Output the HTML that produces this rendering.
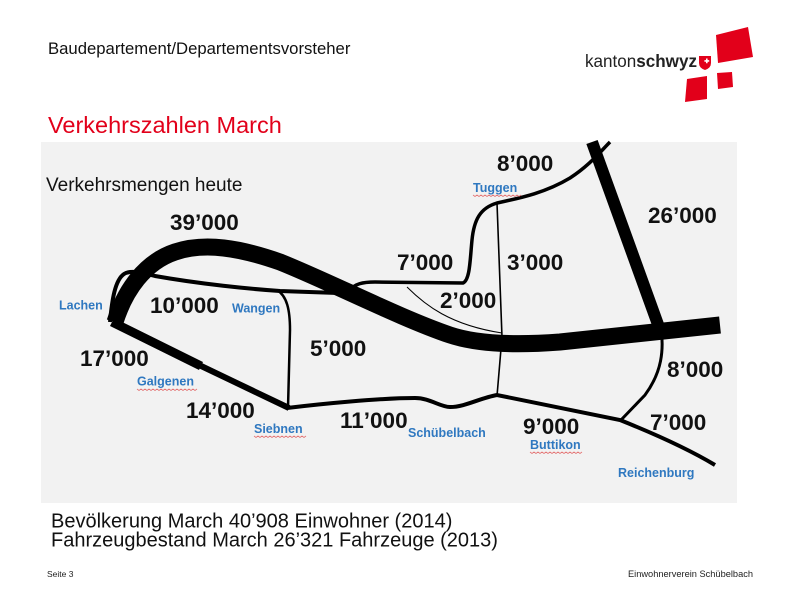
<!DOCTYPE html>
<html>
<head>
<meta charset="utf-8">
<style>
  html,body{margin:0;padding:0;background:#fff;}
  svg{display:block;}
  text{font-family:"Liberation Sans",Arial,sans-serif;}
  .num{font-weight:bold;font-size:22.5px;fill:#111;}
  .lbl{font-weight:bold;font-size:12.5px;fill:#2f78c0;}
  .road{fill:none;stroke:#000;}
</style>
</head>
<body>
<svg width="800" height="600" viewBox="0 0 800 600" xmlns="http://www.w3.org/2000/svg">
  <rect x="0" y="0" width="800" height="600" fill="#fff"/>

  <!-- Header -->
  <text x="48" y="54" font-size="16.7" fill="#111">Baudepartement/Departementsvorsteher</text>
  <text x="48" y="133" font-size="23.5" fill="#e2001a">Verkehrszahlen March</text>

  <!-- Logo -->
  <text x="585" y="67" font-size="17.5" fill="#222" textLength="112" lengthAdjust="spacingAndGlyphs">kanton<tspan font-weight="bold">schwyz</tspan></text>
  <path d="M699 56 L711 56 L711 63 Q711 68 705 70 Q699 68 699 63 Z" fill="#e2001a"/>
  <path d="M706 58.5 h1.6 v1.6 h1.6 v1.6 h-1.6 v1.6 h-1.6 v-1.6 h-1.6 v-1.6 h1.6 Z" fill="#fff"/>
  <polygon points="716,35 748,27 753,57 718,63" fill="#e2001a"/>
  <polygon points="687,79 707,76 707,99 685,102" fill="#e2001a"/>
  <polygon points="717,73 732,72 733,87 718,89" fill="#e2001a"/>

  <!-- Map panel -->
  <rect x="41" y="142" width="696" height="361" fill="#f2f2f2"/>

  <text x="46" y="191" font-size="19" fill="#111">Verkehrsmengen heute</text>

  <!-- thin 2'000 -->
  <path class="road" stroke-width="1" d="M407 287 C425 305,450 325,502 333"/>
  <!-- 3'000 -->
  <path class="road" stroke-width="1.6" d="M497 203 L502 337 L497 396"/>
  <!-- Tuggen road -->
  <path class="road" stroke-width="3.5" d="M350 290 C355 284,362 282,375 282 L463 283 C470 280,470 260,472 240 C474 220,480 208,497 203 C520 198,545 193,570 178 C590 165,600 152,610 142"/>
  <!-- 10'000 road -->
  <path class="road" stroke-width="4" d="M110 322 C112 300,115 280,124 274 C130 270,140 272,155 276 C200 284,250 289,280 291 L338 293"/>
  <!-- Wangen - Siebnen -->
  <path class="road" stroke-width="2.5" d="M277 290 C287 296,290 310,290 330 L288 408"/>
  <!-- Lachen - Siebnen -->
  <path class="road" stroke-width="9" d="M112 322 L201 366"/>
  <path class="road" stroke-width="6" d="M198 364.5 L289 408"/>
  <!-- Siebnen - Reichenburg -->
  <path class="road" stroke-width="4" d="M287 408 C320 404,380 398,415 398 C430 398,440 407,450 407 C465 407,480 398,497 395 L620 420 C660 436,690 450,715 465"/>
  <!-- 8'000 right -->
  <path class="road" stroke-width="3" d="M661 328 C664 350,662 372,645 395 L621 420"/>
  <!-- Main thick road -->
  <path class="road" stroke-width="17" d="M115 322 C125 290,145 262,175 252 C205 242,240 248,280 262 C330 282,400 318,450 335 C480 345,520 345,560 342 L720 325"/>
  <!-- 26'000 -->
  <path class="road" stroke-width="12" d="M592 142 L660 330"/>

  <!-- numbers -->
  <text class="num" x="170" y="230">39’000</text>
  <text class="num" x="150" y="313">10’000</text>
  <text class="num" x="80" y="366">17’000</text>
  <text class="num" x="186" y="418">14’000</text>
  <text class="num" x="310" y="356">5’000</text>
  <text class="num" x="340" y="428">11’000</text>
  <text class="num" x="397" y="270">7’000</text>
  <text class="num" x="507" y="270">3’000</text>
  <text class="num" x="440" y="308">2’000</text>
  <text class="num" x="497" y="171">8’000</text>
  <text class="num" x="648" y="223">26’000</text>
  <text class="num" x="667" y="377">8’000</text>
  <text class="num" x="650" y="430">7’000</text>
  <text class="num" x="523" y="434">9’000</text>

  <!-- place labels -->
  <text class="lbl" x="59" y="309.5">Lachen</text>
  <text class="lbl" x="232" y="312.5">Wangen</text>
  <text class="lbl" x="137" y="385.5">Galgenen</text>
  <text class="lbl" x="254" y="433">Siebnen</text>
  <text class="lbl" x="408" y="437">Schübelbach</text>
  <text class="lbl" x="530" y="449">Buttikon</text>
  <text class="lbl" x="618" y="477">Reichenburg</text>
  <text class="lbl" x="473" y="192">Tuggen</text>

  <!-- spellcheck underlines -->
  <g stroke="#e05050" stroke-width="0.8" fill="none" opacity="0.8">
    <path d="M137 389 l2 1.5 l2 -1.5 l2 1.5 l2 -1.5 l2 1.5 l2 -1.5 l2 1.5 l2 -1.5 l2 1.5 l2 -1.5 l2 1.5 l2 -1.5 l2 1.5 l2 -1.5 l2 1.5 l2 -1.5 l2 1.5 l2 -1.5 l2 1.5 l2 -1.5 l2 1.5 l2 -1.5 l2 1.5 l2 -1.5 l2 1.5 l2 -1.5 l2 1.5 l2 -1.5 l2 1.5 l2 -1.5"/>
    <path d="M254 436 l2 1.5 l2 -1.5 l2 1.5 l2 -1.5 l2 1.5 l2 -1.5 l2 1.5 l2 -1.5 l2 1.5 l2 -1.5 l2 1.5 l2 -1.5 l2 1.5 l2 -1.5 l2 1.5 l2 -1.5 l2 1.5 l2 -1.5 l2 1.5 l2 -1.5 l2 1.5 l2 -1.5 l2 1.5 l2 -1.5 l2 1.5 l2 -1.5"/>
    <path d="M530 452 l2 1.5 l2 -1.5 l2 1.5 l2 -1.5 l2 1.5 l2 -1.5 l2 1.5 l2 -1.5 l2 1.5 l2 -1.5 l2 1.5 l2 -1.5 l2 1.5 l2 -1.5 l2 1.5 l2 -1.5 l2 1.5 l2 -1.5 l2 1.5 l2 -1.5 l2 1.5 l2 -1.5 l2 1.5 l2 -1.5 l2 1.5 l2 -1.5"/>
    <path d="M473 195 l2 1.5 l2 -1.5 l2 1.5 l2 -1.5 l2 1.5 l2 -1.5 l2 1.5 l2 -1.5 l2 1.5 l2 -1.5 l2 1.5 l2 -1.5 l2 1.5 l2 -1.5 l2 1.5 l2 -1.5 l2 1.5 l2 -1.5 l2 1.5 l2 -1.5 l2 1.5 l2 -1.5 l2 1.5 l2 -1.5"/>
  </g>

  <!-- bottom text -->
  <text x="51" y="527.5" font-size="20" fill="#111">Bevölkerung March 40’908 Einwohner (2014)</text>
  <text x="51" y="546.5" font-size="20" fill="#111">Fahrzeugbestand March 26’321 Fahrzeuge (2013)</text>

  <text x="47" y="577" font-size="8.5" fill="#222">Seite 3</text>
  <text x="628" y="577" font-size="9" fill="#222" textLength="125" lengthAdjust="spacingAndGlyphs">Einwohnerverein Schübelbach</text>
</svg>
</body>
</html>
